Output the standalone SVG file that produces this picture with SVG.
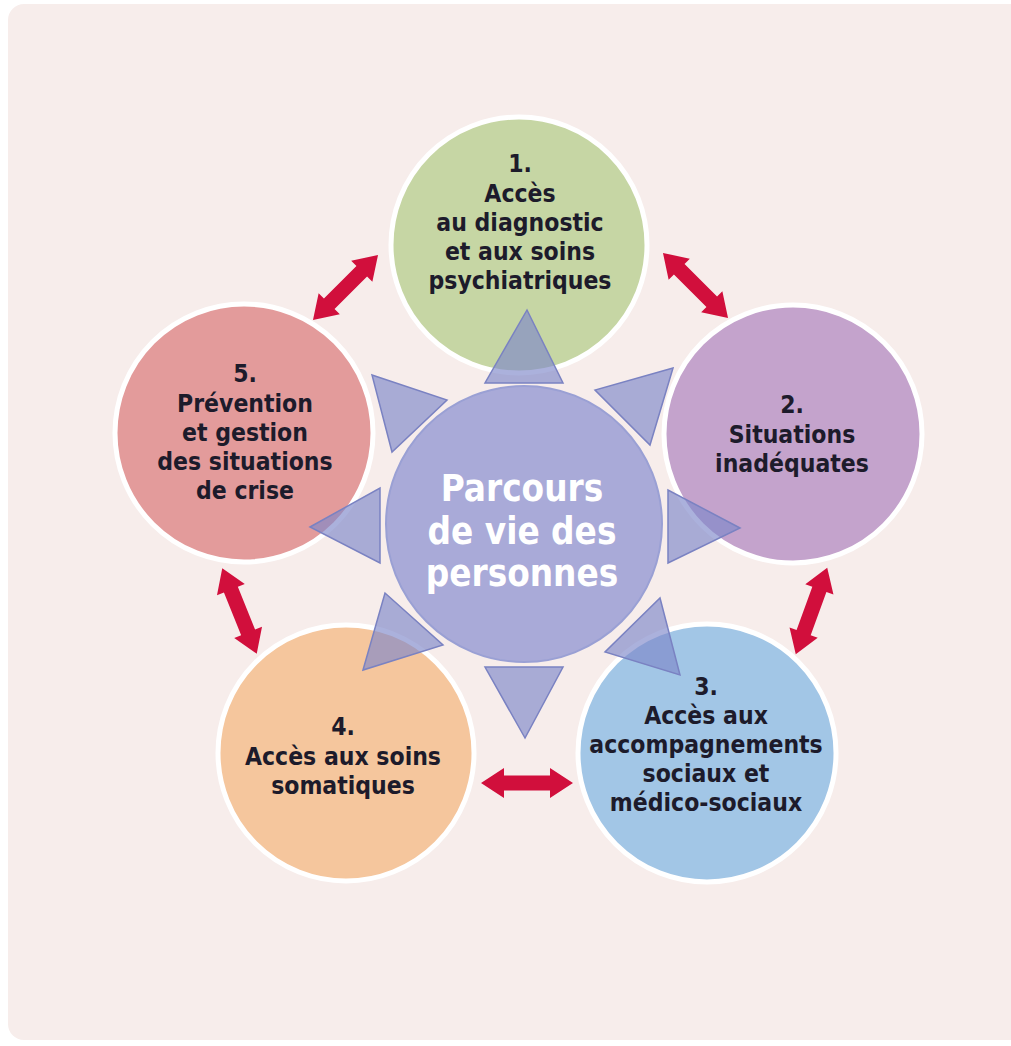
<svg xmlns="http://www.w3.org/2000/svg" width="1011" height="1046" viewBox="0 0 1011 1046">
<style>
.bg{fill:#f7edeb}
.node{stroke:#ffffff;stroke-width:5}
.lbl{font-family:"DejaVu Sans Condensed","DejaVu Sans",sans-serif;font-stretch:condensed;font-weight:700;font-size:24.5px;fill:#1d1b2b;text-anchor:middle}
.ctr{font-family:"DejaVu Sans Condensed","DejaVu Sans",sans-serif;font-stretch:condensed;font-weight:700;font-size:36.5px;fill:#ffffff;text-anchor:middle}
.tri{fill:#7e87c9;fill-opacity:0.65;stroke:#7a82c2;stroke-width:1.5}
.arr{fill:#d10f3c}
</style>
<defs>
<path id="dbl" d="M-46,0 L-23,-15 L-23,-7.5 L23,-7.5 L23,-15 L46,0 L23,15 L23,7.5 L-23,7.5 L-23,15 Z"/>
</defs>
<rect x="0" y="0" width="1011" height="1046" fill="#ffffff"/>
<rect class="bg" x="8" y="4" width="1020" height="1036" rx="16"/>
<g id="node1"><circle class="node" cx="519" cy="245" r="128" fill="#c6d6a4"/></g>
<g id="node2"><circle class="node" cx="793" cy="434" r="129" fill="#c4a3cc"/></g>
<g id="node3"><circle class="node" cx="707" cy="753" r="129" fill="#a2c6e6"/></g>
<g id="node4"><circle class="node" cx="346" cy="753" r="128" fill="#f5c69d"/></g>
<g id="node5"><circle class="node" cx="244" cy="433" r="129" fill="#e39b9b"/></g>
<g id="rays">
<polygon class="tri" points="527,310 485,383 563,383"/>
<polygon class="tri" points="372,375 447,400 392,452"/>
<polygon class="tri" points="673,368 595,390 650,445"/>
<polygon class="tri" points="310,527 380,488 380,563"/>
<polygon class="tri" points="740,528 668,490 668,563"/>
<polygon class="tri" points="363,670 385,593 443,645"/>
<polygon class="tri" points="680,675 660,598 605,652"/>
<polygon class="tri" points="525,738 485,667 563,667"/>
</g>
<g id="center"><circle cx="524" cy="524" r="138" fill="#a9aad8" stroke="#9aa0d4" stroke-width="2"/>
<text class="ctr" x="522" y="501">Parcours</text>
<text class="ctr" x="522" y="544">de vie des</text>
<text class="ctr" x="522" y="586">personnes</text>
</g>
<g id="labels">
<text class="lbl" x="520" y="172">1.</text>
<text class="lbl" x="520" y="202">Accès</text>
<text class="lbl" x="520" y="231">au diagnostic</text>
<text class="lbl" x="520" y="260">et aux soins</text>
<text class="lbl" x="520" y="289">psychiatriques</text>
<text class="lbl" x="792" y="413">2.</text>
<text class="lbl" x="792" y="443">Situations</text>
<text class="lbl" x="792" y="472">inadéquates</text>
<text class="lbl" x="706" y="695">3.</text>
<text class="lbl" x="706" y="724">Accès aux</text>
<text class="lbl" x="706" y="753">accompagnements</text>
<text class="lbl" x="706" y="782">sociaux et</text>
<text class="lbl" x="706" y="811">médico-sociaux</text>
<text class="lbl" x="343" y="735">4.</text>
<text class="lbl" x="343" y="765">Accès aux soins</text>
<text class="lbl" x="343" y="794">somatiques</text>
<text class="lbl" x="245" y="382">5.</text>
<text class="lbl" x="245" y="412">Prévention</text>
<text class="lbl" x="245" y="441">et gestion</text>
<text class="lbl" x="245" y="470">des situations</text>
<text class="lbl" x="245" y="499">de crise</text>
</g>
<g id="connectors">
<use href="#dbl" class="arr" transform="translate(345.5,287.5) rotate(-45)"/>
<use href="#dbl" class="arr" transform="translate(695.5,285.5) rotate(45)"/>
<use href="#dbl" class="arr" transform="translate(811.5,611) rotate(110)"/>
<use href="#dbl" class="arr" transform="translate(527,783)"/>
<use href="#dbl" class="arr" transform="translate(239.5,611) rotate(68)"/>
</g>
</svg>
